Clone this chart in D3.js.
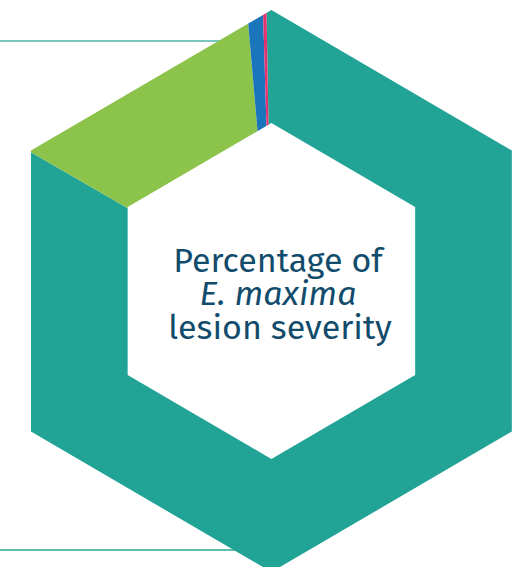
<!DOCTYPE html>
<html>
<head>
<meta charset="utf-8">
<script src="https://cdn.jsdelivr.net/npm/d3@7"></script>
<style>
  html, body { margin: 0; padding: 0; background: #ffffff; }
  svg { display: block; }
</style>
</head>
<body>
<div id="chart"></div>
<script>
// Lesion severity shares (%), clockwise from the top
const categories = ["Score 0", "Score 1", "Score 2", "Score 3"];
const values = [83.6, 15.3, 0.9, 0.2];
const colors = ["#21a396", "#8bc34b", "#1b75bb", "#e5316f"];
const titleLines = ["Percentage of", "E. maxima", "lesion severity"];

const width = 516, height = 567;
const cx = 271.4, cy = 291;
const outerRy = 281, innerRy = 168;
const xStretch = 0.988;          // horizontal squeeze of the hexagon

const svg = d3.select("#chart").append("svg")
  .attr("width", width).attr("height", height);

// guide rules on the left, drawn behind the hexagon
svg.append("line").attr("x1", 0).attr("x2", cx).attr("y1", 41).attr("y2", 41)
  .attr("stroke", "#4fb3aa").attr("stroke-width", 1.6);
svg.append("line").attr("x1", 0).attr("x2", cx).attr("y1", 550).attr("y2", 550)
  .attr("stroke", "#2aa79b").attr("stroke-width", 1.6);

// pointy-top hexagon ring used as a clip for the pie
function hexPoints(ry) {
  return d3.range(6).map(i => {
    const a = i * Math.PI / 3;
    return [cx + Math.sin(a) * ry * xStretch, cy - Math.cos(a) * ry];
  });
}
const ringPath = "M" + hexPoints(outerRy).join("L") + "Z" +
                 "M" + hexPoints(innerRy).join("L") + "Z";

svg.append("defs").append("clipPath").attr("id", "hexRing")
  .append("path").attr("d", ringPath).attr("clip-rule", "evenodd");

const color = d3.scaleOrdinal().domain(categories).range(colors);

const offset = -1 * Math.PI / 180;
const pie = d3.pie().sort(null).value(d => d.value)
  .startAngle(offset).endAngle(2 * Math.PI + offset);
const arc = d3.arc().innerRadius(0).outerRadius(outerRy * 1.3);

const data = categories.map((c, i) => ({ category: c, value: values[i] }));

svg.append("g")
  .attr("clip-path", "url(#hexRing)")
  .append("g").attr("transform", `translate(${cx},${cy})`)
  .selectAll("path").data(pie(data)).join("path")
  .attr("d", arc)
  .attr("fill", d => color(d.data.category));

// centre title
const title = svg.append("text")
  .attr("text-anchor", "middle")
  .attr("font-family", "'Fira Sans', 'Open Sans', 'Noto Sans', sans-serif")
  .attr("font-size", 34)
  .attr("fill", "#124c6c");
titleLines.forEach((t, i) => {
  title.append("tspan")
    .attr("x", i === 2 ? 280 : 278)
    .attr("y", 271.7 + i * 33.4)
    .attr("font-style", i === 1 ? "italic" : "normal")
    .text(t);
});
</script>
</body>
</html>
